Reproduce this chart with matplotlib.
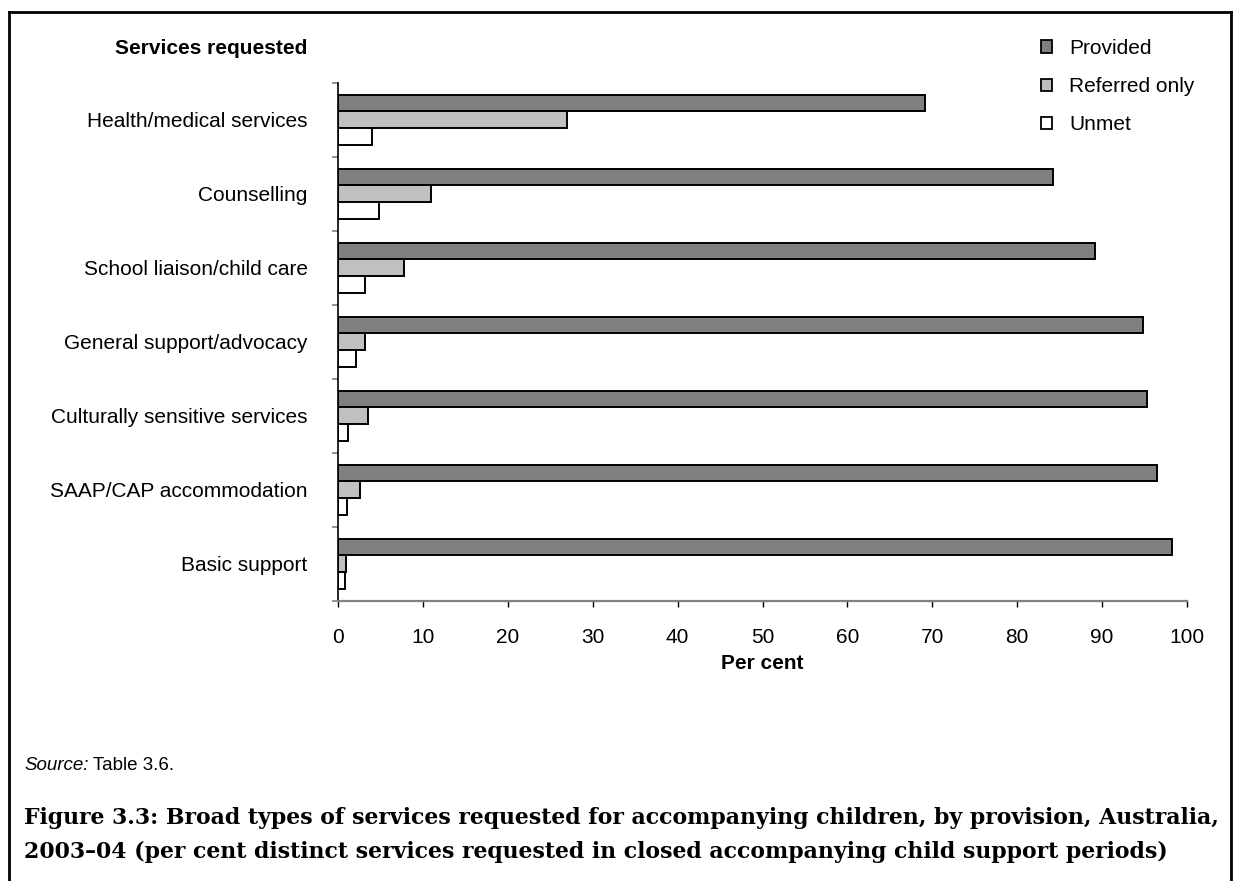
import matplotlib
import matplotlib.pyplot as plt
import numpy as np
from matplotlib.lines import Line2D
from matplotlib.patches import Patch

matplotlib.use("Agg")

# data, top to bottom
categories = [
    "Health/medical services",
    "Counselling",
    "School liaison/child care",
    "General support/advocacy",
    "Culturally sensitive services",
    "SAAP/CAP accommodation",
    "Basic support",
]
provided = [69.2, 84.2, 89.2, 94.9, 95.3, 96.5, 98.3]
referred_only = [26.9, 10.9, 7.8, 3.1, 3.5, 2.6, 0.9]
unmet = [4.0, 4.8, 3.1, 2.1, 1.2, 1.0, 0.8]
series_names = ["Provided", "Referred only", "Unmet"]
x_ticks = list(range(0, 101, 10))

SANS = "Liberation Sans"
FS = 15

fig = plt.figure(figsize=(12.34, 8.81), dpi=100)
W, H = 1234, 881
ax = fig.add_axes([338.3 / W, 1 - 600.7 / H, (1186.7 - 338.3) / W, (600.7 - 82.7) / H])

n = len(categories)
band = np.arange(n) + 0.5
bh = 0.225
colors = ["#808080", "#c0c0c0", "#ffffff"]
for vals, off, col, name in zip([provided, referred_only, unmet], [-bh, 0, bh], colors, series_names):
    ax.barh(band + off, vals, height=bh, color=col, edgecolor="black", linewidth=1.4, label=name)

ax.set_xlim(0, 100)
ax.set_ylim(n, 0)
ax.set_xticks(x_ticks)
ax.set_xticklabels([str(t) for t in x_ticks], fontsize=FS, family=SANS)
ax.tick_params(axis="x", direction="out", length=4.5, width=1.0, color="black", pad=15)

ax.set_yticks(np.arange(n + 1))
ax.set_yticklabels([])
ax.tick_params(axis="y", which="major", direction="out", length=4.5, width=1.2, color="#808080")
ax.set_yticks(band, minor=True)
ax.set_yticklabels(categories, minor=True, fontsize=FS, family=SANS)
ax.tick_params(axis="y", which="minor", length=0, pad=22)

for s in ["top", "right"]:
    ax.spines[s].set_visible(False)
ax.spines["bottom"].set_color("#808080")
ax.spines["bottom"].set_linewidth(1.6)
ax.spines["left"].set_color("black")
ax.spines["left"].set_linewidth(1.2)

ax.set_xlabel("Per cent", fontsize=FS, family=SANS, fontweight="bold", labelpad=5)

fig.text(307 / W, 1 - 48 / H, "Services requested", ha="right", va="center",
         fontsize=FS, family=SANS, fontweight="bold")

handles = [Patch(facecolor=c, edgecolor="black", linewidth=1.3) for c in colors]
fig.legend(handles, series_names, loc="upper left", bbox_to_anchor=(1041 / W, 1 - 39 / H),
           frameon=False, prop={"family": SANS, "size": FS}, handlelength=0.55,
           handleheight=0.55, handletextpad=0.8, labelspacing=0.92, borderpad=0, borderaxespad=0)

src = fig.text(24 / W, 1 - 765 / H, "Source:", ha="left", va="center", fontsize=13.5,
               family=SANS, style="italic")
fig.canvas.draw()
ax.annotate(" Table 3.6.", xy=(1, 0.5), xycoords=src, va="center", ha="left",
            fontsize=13.5, family=SANS)

cap_lines = [
    "Figure 3.3: Broad types of services requested for accompanying children, by provision, Australia,",
    "2003\u201304 (per cent distinct services requested in closed accompanying child support periods)",
]
for line, yc in zip(cap_lines, [818, 852]):
    fig.text(24 / W, 1 - yc / H, line, ha="left", va="center", fontsize=15.8,
             family="DejaVu Serif", fontweight="bold")

# page frame
for xs, ys in [([9, 1231], [12, 12]), ([9, 9], [12, H]), ([1231, 1231], [12, H])]:
    fig.add_artist(Line2D([x / W for x in xs], [1 - y / H for y in ys], color="black",
                          linewidth=2, transform=fig.transFigure))

fig.savefig("out.png", dpi=100, facecolor="white")
